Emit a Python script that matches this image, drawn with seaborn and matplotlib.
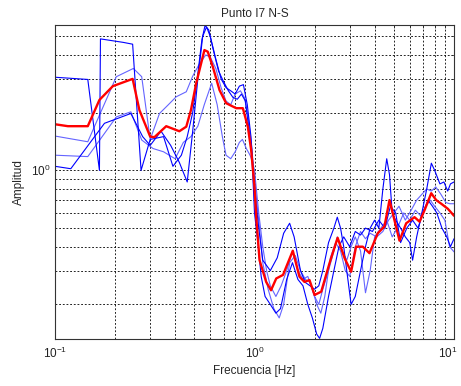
import numpy as np
import pandas as pd
import matplotlib
matplotlib.use("Agg")
import matplotlib.pyplot as plt
import matplotlib.transforms as mtransforms
import seaborn as sns
from matplotlib.ticker import LogLocator, NullFormatter, FixedLocator

# ---- data (frequency in Hz, amplitude) ----
fA = [0.1, 0.146, 0.167, 0.169, 0.22, 0.245, 0.27, 0.30, 0.35, 0.39, 0.43, 0.46, 0.49, 0.52, 0.545, 0.565,
      0.59, 0.62, 0.66, 0.70, 0.74, 0.78, 0.82, 0.86, 0.90, 0.94, 0.97,
      1.0, 1.04, 1.08, 1.13, 1.2, 1.28, 1.35, 1.45, 1.55, 1.65, 1.75, 1.85, 1.95, 2.05, 2.12, 2.2, 2.35, 2.5,
      2.65, 2.8, 3.0, 3.2, 3.4, 3.6, 3.9, 4.2, 4.5, 4.8, 5.1, 5.4, 5.8, 6.2, 6.6, 7.0, 7.4, 7.8, 8.2, 8.7,
      9.2, 9.6, 10.0]
aA = [3.06, 2.98, 1.0, 4.85, 4.65, 4.55, 1.0, 1.45, 1.5, 1.05, 1.2, 1.5, 2.0, 3.2, 4.8, 5.7,
      5.4, 4.3, 3.3, 2.9, 2.6, 2.4, 2.35, 2.5, 2.3, 1.6, 1.2,
      0.6, 0.42, 0.28, 0.22, 0.2, 0.18, 0.19, 0.27, 0.33, 0.27, 0.25, 0.2, 0.17, 0.14, 0.133, 0.15, 0.22, 0.3,
      0.4, 0.45, 0.4, 0.48, 0.46, 0.5, 0.48, 0.55, 0.5, 0.65, 0.6, 0.42, 0.5, 0.55, 0.5, 0.6, 0.7, 0.65, 0.6, 0.5,
      0.45, 0.4, 0.44]

fB = [0.1, 0.146, 0.203, 0.247, 0.272, 0.30, 0.334, 0.37, 0.405, 0.455, 0.49, 0.53, 0.57, 0.60, 0.64, 0.68,
      0.72, 0.76, 0.80, 0.85, 0.89, 0.93, 0.97,
      1.0, 1.05, 1.1, 1.17, 1.25, 1.33, 1.4, 1.5, 1.6, 1.7, 1.8, 1.9, 2.0, 2.1, 2.2, 2.35, 2.5, 2.6, 2.75, 2.9,
      3.05, 3.2, 3.4, 3.6, 3.8, 4.0, 4.3, 4.6, 4.9, 5.2, 5.6, 6.0, 6.4, 6.8, 7.2, 7.6, 8.0, 8.5, 9.0, 9.5, 10.0]
aB = [1.51, 1.41, 3.08, 3.4, 3.08, 1.45, 1.98, 2.2, 2.42, 2.57, 3.1, 3.6, 4.0, 3.9, 3.4, 2.7,
      2.3, 2.2, 2.5, 2.6, 2.4, 1.9, 1.3,
      0.9, 0.55, 0.33, 0.24, 0.19, 0.17, 0.2, 0.33, 0.36, 0.3, 0.27, 0.26, 0.22, 0.2, 0.24, 0.3, 0.38, 0.45, 0.38, 0.34,
      0.4, 0.45, 0.38, 0.23, 0.3, 0.45, 0.5, 0.55, 0.45, 0.5, 0.6, 0.55, 0.62, 0.58, 0.65, 0.7, 0.65, 0.6, 0.55, 0.4, 0.376]

fC = [0.1, 0.146, 0.203, 0.24, 0.272, 0.31, 0.35, 0.40, 0.44, 0.48, 0.52, 0.56, 0.61, 0.65, 0.69, 0.72,
      0.76, 0.80, 0.84, 0.87, 0.91, 0.95, 0.98,
      1.0, 1.05, 1.1, 1.15, 1.2, 1.28, 1.36, 1.45, 1.55, 1.65, 1.75, 1.85, 1.95, 2.05, 2.15, 2.25, 2.4, 2.55, 2.7,
      2.85, 3.0, 3.2, 3.4, 3.6, 3.8, 4.1, 4.4, 4.7, 5.0, 5.3, 5.7, 6.1, 6.5, 6.9, 7.3, 7.7, 8.1, 8.6, 9.1, 9.5, 10.0]
aC = [1.2, 1.18, 1.9, 2.02, 1.44, 1.3, 1.25, 1.15, 1.4, 1.5, 1.7, 2.2, 2.85, 2.2, 1.5, 1.2,
      1.15, 1.25, 1.4, 1.45, 1.3, 1.2, 1.1,
      1.0, 0.6, 0.4, 0.3, 0.25, 0.22, 0.25, 0.3, 0.38, 0.3, 0.27, 0.28, 0.24, 0.2, 0.18, 0.22, 0.35, 0.42, 0.38,
      0.3, 0.28, 0.4, 0.48, 0.44, 0.47, 0.45, 0.48, 0.55, 0.6, 0.65, 0.55, 0.62, 0.7, 0.75, 0.8, 0.78, 0.82, 0.75, 0.68, 0.67, 0.67]

fD = [0.1, 0.12, 0.177, 0.24, 0.275, 0.30, 0.34, 0.38, 0.42, 0.46, 0.49, 0.52, 0.55, 0.575, 0.60, 0.64,
      0.68, 0.72, 0.76, 0.80, 0.84, 0.88, 0.92, 0.96,
      1.0, 1.05, 1.1, 1.2, 1.3, 1.4, 1.5, 1.58, 1.7, 1.8, 1.9, 2.0, 2.1, 2.2, 2.35, 2.5, 2.6, 2.7, 2.8, 2.9,
      3.05, 3.2, 3.4, 3.6, 3.8, 4.0, 4.2, 4.4, 4.6, 4.75, 4.9, 5.1, 5.4, 5.7, 6.0, 6.2, 6.5, 6.9, 7.3, 7.7,
      8.0, 8.5, 8.9, 9.3, 9.6, 10.0]
aD = [1.05, 1.02, 1.76, 1.98, 1.5, 1.35, 1.6, 1.35, 1.1, 0.87, 1.6, 3.0, 5.0, 5.6, 5.0, 3.8,
      3.0, 2.7, 2.6, 2.5, 2.75, 2.8, 2.2, 1.5,
      0.8, 0.5, 0.34, 0.3, 0.35, 0.47, 0.53, 0.45, 0.3, 0.26, 0.25, 0.24, 0.25, 0.3, 0.42, 0.5, 0.57, 0.5, 0.4, 0.3,
      0.2, 0.22, 0.3, 0.4, 0.5, 0.55, 0.5, 0.8, 1.15, 0.95, 0.6, 0.55, 0.5, 0.45, 0.42, 0.34, 0.45, 0.6, 0.8, 1.09,
      1.0, 0.85, 0.87, 0.78, 0.85, 0.87]

fMean = [0.1, 0.116, 0.146, 0.167, 0.195, 0.245, 0.265, 0.30, 0.315, 0.361, 0.42, 0.455, 0.48, 0.51, 0.561,
         0.583, 0.618, 0.668, 0.721, 0.81, 0.874, 0.926, 0.962, 1.0, 1.02, 1.06, 1.144, 1.21, 1.285, 1.39,
         1.556, 1.68, 1.78, 1.886, 2.0, 2.16, 2.375, 2.61, 2.83, 3.05, 3.23, 3.49, 3.77, 4.15, 4.48, 4.75,
         5.03, 5.33, 5.76, 6.34, 6.72, 7.12, 7.69, 8.14, 8.63, 9.32, 10.0]
aMean = [1.74, 1.70, 1.70, 2.33, 2.75, 3.0, 2.06, 1.50, 1.49, 1.70, 1.60, 1.69, 2.06, 2.84, 4.24,
         4.16, 3.47, 2.62, 2.24, 2.11, 2.11, 1.69, 1.28, 0.82, 0.573, 0.34, 0.262, 0.237, 0.273, 0.285,
         0.381, 0.279, 0.262, 0.268, 0.224, 0.233, 0.327, 0.445, 0.348, 0.296, 0.40, 0.40, 0.37, 0.47, 0.51, 0.70,
         0.55, 0.43, 0.53, 0.57, 0.54, 0.62, 0.76, 0.70, 0.67, 0.63, 0.58]

xticks = [0.1, 1, 10]
yticks = [1]

# ---- plot ----
sns.set_style("white")
plt.rcParams['font.family'] = ['Liberation Sans', 'DejaVu Sans']

fig = plt.figure(figsize=(4.61, 3.86), dpi=100)
ax = fig.add_axes([55/461, 47/386, (454-55)/461, (339-25)/386])

dark = "#0000ff"
light = "#6464ff"
for f, a, c in [(fB, aB, light), (fC, aC, light), (fA, aA, dark), (fD, aD, dark)]:
    sns.lineplot(x=f, y=a, ax=ax, color=c, linewidth=0.8, estimator=None, sort=False)
sns.lineplot(x=fMean, y=aMean, ax=ax, color="#ff0000", linewidth=1.7, estimator=None, sort=False)

ax.set_xscale("log")
ax.set_yscale("log")
ax.set_xlim(0.1, 10)
ax.set_ylim(0.132, 5.73)

ax.xaxis.set_major_locator(FixedLocator(xticks))
ax.yaxis.set_major_locator(FixedLocator(yticks))
ax.xaxis.set_minor_locator(LogLocator(base=10, subs=np.arange(2, 10)))
ax.yaxis.set_minor_locator(LogLocator(base=10, subs=np.arange(2, 10)))
ax.xaxis.set_minor_formatter(NullFormatter())
ax.yaxis.set_minor_formatter(NullFormatter())

ax.grid(True, which="both", color="black", linestyle=(0, (2.2, 2.2)), linewidth=0.6)
ax.tick_params(which="major", direction="in", length=4, width=0.6, labelsize=8.5, colors="#222222")
ax.tick_params(axis="x", which="major", pad=5)
ax.tick_params(which="minor", direction="in", length=2, width=0.5)
ax.tick_params(top=True, right=True, which="both")
for s in ax.spines.values():
    s.set_color("#333333")
    s.set_linewidth(0.8)

ax.set_title("Punto I7 N-S", fontsize=8.5, pad=6)
ax.set_xlabel("Frecuencia [Hz]", fontsize=8.5, labelpad=3)
ax.set_ylabel("Amplitud", fontsize=8.5, labelpad=4)

fig.canvas.draw()
last = ax.get_xticklabels()[-1]
last.set_transform(last.get_transform() + mtransforms.ScaledTranslation(-6/100, 0, fig.dpi_scale_trans))

fig.savefig("out.png", dpi=100)
